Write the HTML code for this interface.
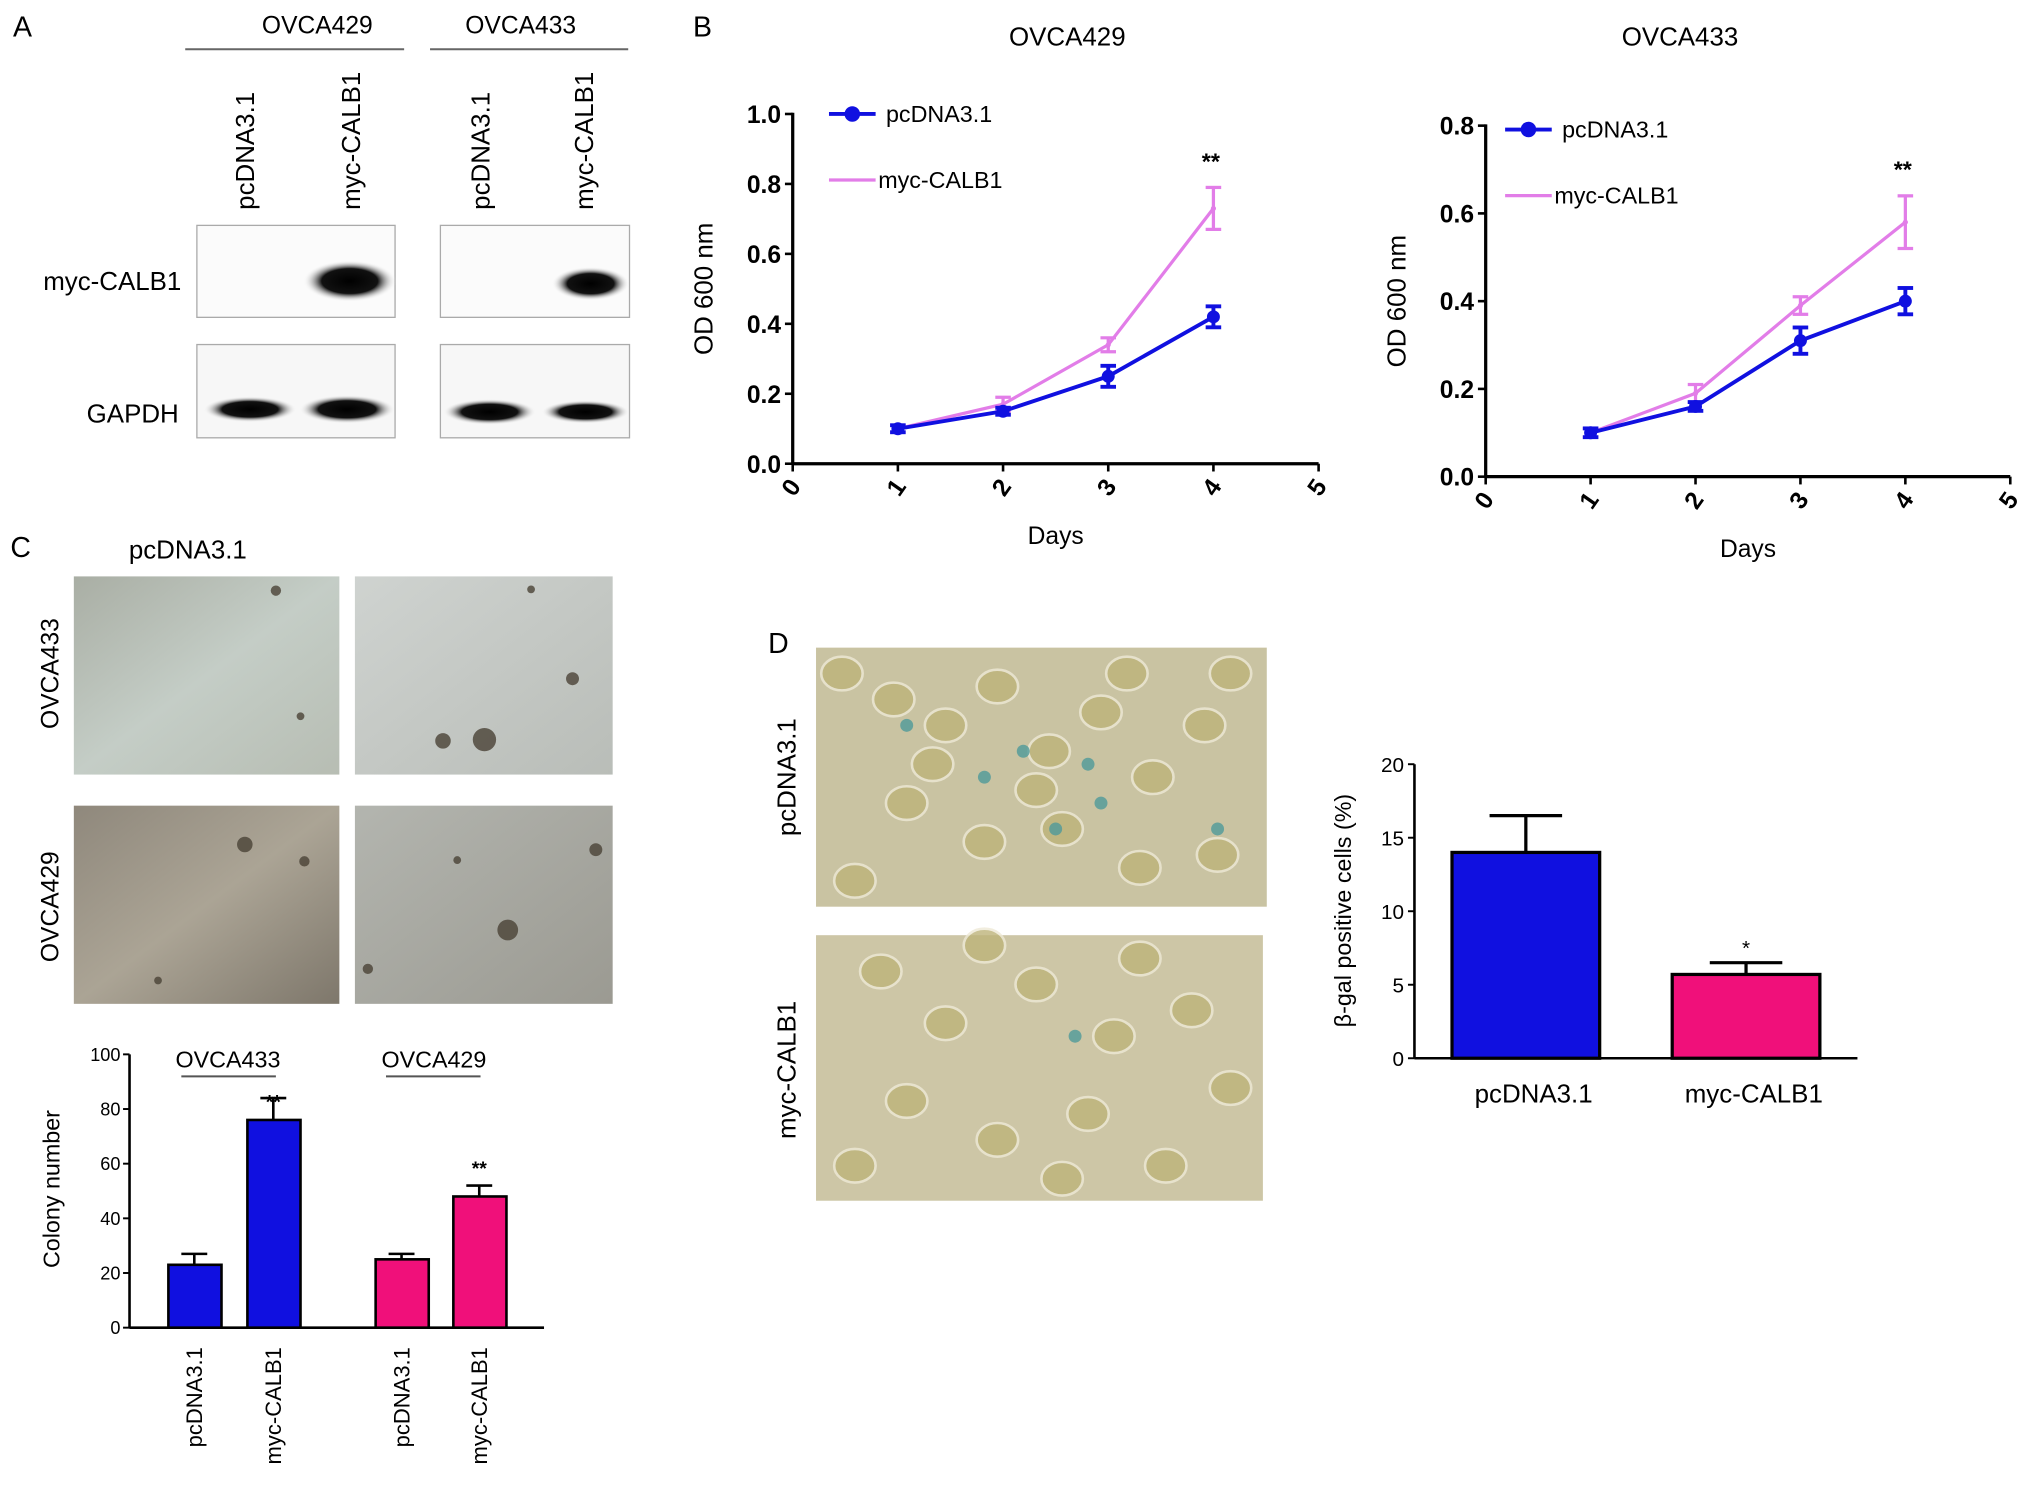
<!DOCTYPE html>
<html><head><meta charset="utf-8"><style>
html,body{margin:0;padding:0;background:#fff}
svg{display:block;font-family:"Liberation Sans",Arial,sans-serif}
</style></head><body>
<svg id="fig" width="2031" height="1509" viewBox="0 0 1568 1165" xmlns="http://www.w3.org/2000/svg">
<defs>
<radialGradient id="band" cx="50%" cy="50%" r="50%"><stop offset="0" stop-color="#000"/><stop offset="0.6" stop-color="#111"/><stop offset="1" stop-color="#fff" stop-opacity="0"/></radialGradient>
<linearGradient id="img1" x1="0" y1="0" x2="1" y2="1"><stop offset="0" stop-color="#a9aea4"/><stop offset="0.5" stop-color="#c4cdc6"/><stop offset="1" stop-color="#b7bdb3"/></linearGradient>
<linearGradient id="img2" x1="0" y1="0" x2="1" y2="1"><stop offset="0" stop-color="#cfd3d0"/><stop offset="1" stop-color="#b9bdb8"/></linearGradient>
<linearGradient id="img3" x1="0" y1="0" x2="1" y2="1"><stop offset="0" stop-color="#8f887c"/><stop offset="0.5" stop-color="#aba495"/><stop offset="1" stop-color="#7e776b"/></linearGradient>
<linearGradient id="img4" x1="0" y1="0" x2="1" y2="1"><stop offset="0" stop-color="#b3b5af"/><stop offset="1" stop-color="#9b9a92"/></linearGradient>
</defs>

<!-- Panel A -->
<g>
<text x="10" y="28" font-size="22">A</text>
<text x="245" y="26" font-size="19" text-anchor="middle">OVCA429</text>
<line x1="143" y1="38" x2="312" y2="38" stroke="#666" stroke-width="1.5"/>
<text x="402" y="26" font-size="19" text-anchor="middle">OVCA433</text>
<line x1="332" y1="38" x2="485" y2="38" stroke="#666" stroke-width="1.5"/>
<text transform="translate(196,162) rotate(-90)" font-size="20">pcDNA3.1</text>
<text transform="translate(278,162) rotate(-90)" font-size="20">myc-CALB1</text>
<text transform="translate(378,162) rotate(-90)" font-size="20">pcDNA3.1</text>
<text transform="translate(458,162) rotate(-90)" font-size="20">myc-CALB1</text>
<text x="140" y="224" font-size="20" text-anchor="end">myc-CALB1</text>
<text x="138" y="326" font-size="20" text-anchor="end">GAPDH</text>
<rect x="152" y="174" width="153" height="71" fill="#fbfbfb" stroke="#aaa"/>
<rect x="340" y="174" width="146" height="71" fill="#fbfbfb" stroke="#aaa"/>
<rect x="152" y="266" width="153" height="72" fill="#f7f7f7" stroke="#aaa"/>
<rect x="340" y="266" width="146" height="72" fill="#f7f7f7" stroke="#aaa"/>
<ellipse cx="270" cy="217" rx="36" ry="16" fill="url(#band)"/>
<ellipse cx="456" cy="219" rx="30" ry="13" fill="url(#band)"/>
<ellipse cx="193" cy="316" rx="36" ry="10" fill="url(#band)"/>
<ellipse cx="268" cy="316" rx="37" ry="11" fill="url(#band)"/>
<ellipse cx="378" cy="318" rx="36" ry="10" fill="url(#band)"/>
<ellipse cx="452" cy="318" rx="34" ry="9" fill="url(#band)"/>
</g>

<text x="535" y="28" font-size="22">B</text>
<g id="chartB1"></g>
<g id="chartB2"></g>

<!-- Panel C -->
<g>
<text x="8" y="430" font-size="22">C</text>
<text x="145" y="431" font-size="20" text-anchor="middle">pcDNA3.1</text>
<text transform="translate(45,520) rotate(-90)" font-size="19" text-anchor="middle">OVCA433</text>
<text transform="translate(45,700) rotate(-90)" font-size="19" text-anchor="middle">OVCA429</text>
<rect x="57" y="445" width="205" height="153" fill="url(#img1)"/>
<rect x="274" y="445" width="199" height="153" fill="url(#img2)"/>
<rect x="57" y="622" width="205" height="153" fill="url(#img3)"/>
<rect x="274" y="622" width="199" height="153" fill="url(#img4)"/>
<g fill="#4a4236" opacity="0.8">
<circle cx="213" cy="456" r="4"/><circle cx="232" cy="553" r="3"/><circle cx="374" cy="571" r="9"/><circle cx="342" cy="572" r="6"/><circle cx="442" cy="524" r="5"/><circle cx="410" cy="455" r="3"/><circle cx="189" cy="652" r="6"/><circle cx="235" cy="665" r="4"/><circle cx="392" cy="718" r="8"/><circle cx="460" cy="656" r="5"/><circle cx="284" cy="748" r="4"/><circle cx="122" cy="757" r="3"/><circle cx="353" cy="664" r="3"/>
</g>
</g>
<g id="chartC"></g>

<!-- Panel D -->
<g>
<text x="593" y="504" font-size="22">D</text>
<text transform="translate(614,600) rotate(-90)" font-size="20" text-anchor="middle">pcDNA3.1</text>
<text transform="translate(614,826) rotate(-90)" font-size="20" text-anchor="middle">myc-CALB1</text>
<rect x="630" y="500" width="348" height="200" fill="#c9c3a2"/>
<rect x="630" y="722" width="345" height="205" fill="#cdc6a6"/>
<g id="cells"></g>
</g>
<g id="chartD"></g>

<script>
const NS='http://www.w3.org/2000/svg';
function mk(parent,tag,attrs,txt){const e=document.createElementNS(NS,tag);for(const k in attrs)e.setAttribute(k,attrs[k]);if(txt!==undefined)e.textContent=txt;parent.appendChild(e);return e;}

// ----- Panel B data -----
const days=[1,2,3,4];
const b1Pc=[0.10,0.15,0.25,0.42];
const b1PcErr=[0.01,0.01,0.03,0.03];
const b1Myc=[0.10,0.17,0.34,0.73];
const b1MycErr=[0.01,0.02,0.02,0.06];
const b1YTicks=[0.0,0.2,0.4,0.6,0.8,1.0];
const b2Pc=[0.10,0.16,0.31,0.40];
const b2PcErr=[0.01,0.01,0.03,0.03];
const b2Myc=[0.10,0.19,0.39,0.58];
const b2MycErr=[0.01,0.02,0.02,0.06];
const b2YTicks=[0.0,0.2,0.4,0.6,0.8];
const xTicks=[0,1,2,3,4,5];

function lineChart(g,o){
  const X=v=>o.x0+(o.x1-o.x0)*v/5;
  const Y=v=>o.y0-(o.y0-o.y1)*v/o.ymax;
  mk(g,'text',{x:o.tx,y:35,'font-size':20,'text-anchor':'middle'},o.title);
  mk(g,'line',{x1:o.x0,y1:o.y0,x2:o.x0,y2:o.y1-1,stroke:'#000','stroke-width':2.5});
  mk(g,'line',{x1:o.x0,y1:o.y0,x2:o.x1,y2:o.y0,stroke:'#000','stroke-width':2.5});
  o.yt.forEach(t=>{mk(g,'line',{x1:o.x0-6,y1:Y(t),x2:o.x0,y2:Y(t),stroke:'#000','stroke-width':2});
    const tx=mk(g,'text',{x:o.x0-9,y:Y(t)+7,'font-size':19,'font-weight':'bold','text-anchor':'end'},t.toFixed(1));
    });
  xTicks.forEach(t=>{mk(g,'line',{x1:X(t),y1:o.y0,x2:X(t),y2:o.y0+6,stroke:'#000','stroke-width':2});
    const tx=mk(g,'text',{transform:`translate(${X(t)+4},${o.y0+22}) rotate(-55)`,'font-size':19,'font-weight':'bold','text-anchor':'middle'},t);
    });
  const xl=mk(g,'text',{x:(o.x0+o.x1)/2,y:o.y0+62,'font-size':19,'text-anchor':'middle'},'Days');
  
  const yl=mk(g,'text',{transform:`translate(${o.x0-62},${(o.y0+o.y1)/2}) rotate(-90)`,'font-size':20,'text-anchor':'middle'},'OD 600 nm');
  
  function series(vals,errs,col,w,dot,name){
    const sg=mk(g,'g',{});
    
    
    mk(sg,'polyline',{points:vals.map((v,i)=>X(days[i])+','+Y(v)).join(' '),fill:'none',stroke:col,'stroke-width':w});
    vals.forEach((v,i)=>{const x=X(days[i]);const e=errs[i];
      mk(sg,'line',{x1:x,y1:Y(v+e),x2:x,y2:Y(v-e),stroke:col,'stroke-width':w});
      mk(sg,'line',{x1:x-6,y1:Y(v+e),x2:x+6,y2:Y(v+e),stroke:col,'stroke-width':w});
      mk(sg,'line',{x1:x-6,y1:Y(v-e),x2:x+6,y2:Y(v-e),stroke:col,'stroke-width':w});
      if(dot)mk(sg,'circle',{cx:x,cy:Y(v),r:5,fill:col});
      else mk(sg,'circle',{cx:x,cy:Y(v),r:2,fill:col});});
  }
  series(o.myc,o.mycE,'#e27de8',2.5,false,'series-myc-calb1');
  series(o.pc,o.pcE,'#1010e0',3,true,'series-pcdna');
  const sx=X(4);mk(g,'text',{x:sx-2,y:Y(o.myc[3]+o.mycE[3])-14,'font-size':18,'font-weight':'bold','text-anchor':'middle'},'**');
  const lg=mk(g,'g',{});
  mk(lg,'line',{x1:o.lx,y1:o.ly,x2:o.lx+36,y2:o.ly,stroke:'#1010e0','stroke-width':3});
  mk(lg,'circle',{cx:o.lx+18,cy:o.ly,r:6,fill:'#1010e0'});
  mk(lg,'text',{x:o.lx+44,y:o.ly+6,'font-size':18},'pcDNA3.1');
  mk(lg,'line',{x1:o.lx,y1:o.ly+51,x2:o.lx+36,y2:o.ly+51,stroke:'#e27de8','stroke-width':2.5});
  mk(lg,'text',{x:o.lx+38,y:o.ly+57,'font-size':18},'myc-CALB1');
}
lineChart(document.getElementById('chartB1'),{x0:612,x1:1018,y0:358,y1:88,ymax:1.0,yt:b1YTicks,title:'OVCA429',tx:824,pc:b1Pc,pcE:b1PcErr,myc:b1Myc,mycE:b1MycErr,lx:640,ly:88});
lineChart(document.getElementById('chartB2'),{x0:1147,x1:1552,y0:368,y1:97,ymax:0.8,yt:b2YTicks,title:'OVCA433',tx:1297,pc:b2Pc,pcE:b2PcErr,myc:b2Myc,mycE:b2MycErr,lx:1162,ly:100});

// ----- Panel C bar chart -----
const cLabels=['pcDNA3.1','myc-CALB1','pcDNA3.1','myc-CALB1'];
const cVals=[23,76,25,48];
const cErrs=[4,8,2,4];
const cColors=['#1010e0','#1010e0','#f0107a','#f0107a'];
const cYTicks=[0,20,40,60,80,100];
(function(){
  const g=document.getElementById('chartC');
  const x0=100,x1=420,y0=1025,y1=814;const Y=v=>y0-(y0-y1)*v/100;
  const cx=[150,211,310,370];
  mk(g,'line',{x1:x0,y1:y0,x2:x0,y2:y1,stroke:'#000','stroke-width':2});
  mk(g,'line',{x1:x0,y1:y0,x2:x1,y2:y0,stroke:'#000','stroke-width':2});
  cYTicks.forEach(t=>{mk(g,'line',{x1:x0-5,y1:Y(t),x2:x0,y2:Y(t),stroke:'#000','stroke-width':1.5});
    mk(g,'text',{x:x0-7,y:Y(t)+5,'font-size':14,'text-anchor':'end'},t);});
  mk(g,'text',{transform:`translate(46,918) rotate(-90)`,'font-size':18,'text-anchor':'middle'},'Colony  number');
  cVals.forEach((v,i)=>{
    const b=mk(g,'rect',{x:cx[i]-20,y:Y(v),width:41,height:y0-Y(v),fill:cColors[i],stroke:'#000','stroke-width':2});
    
    
    mk(g,'line',{x1:cx[i],y1:Y(v),x2:cx[i],y2:Y(v+cErrs[i]),stroke:'#000','stroke-width':2});
    mk(g,'line',{x1:cx[i]-10,y1:Y(v+cErrs[i]),x2:cx[i]+10,y2:Y(v+cErrs[i]),stroke:'#000','stroke-width':2});
    const l=mk(g,'text',{transform:`translate(${cx[i]+6},1040) rotate(-90)`,'font-size':17,'text-anchor':'end'},cLabels[i]);
    
  });
  mk(g,'text',{x:cx[1],y:Y(cVals[1]+cErrs[1])+8,'font-size':15,'font-weight':'bold','text-anchor':'middle'},'**');
  mk(g,'text',{x:cx[3],y:Y(cVals[3]+cErrs[3])-8,'font-size':15,'font-weight':'bold','text-anchor':'middle'},'**');
  mk(g,'text',{x:176,y:824,'font-size':18,'text-anchor':'middle'},'OVCA433');
  mk(g,'line',{x1:140,y1:831,x2:213,y2:831,stroke:'#555','stroke-width':1.5});
  mk(g,'text',{x:335,y:824,'font-size':18,'text-anchor':'middle'},'OVCA429');
  mk(g,'line',{x1:298,y1:831,x2:371,y2:831,stroke:'#555','stroke-width':1.5});
})();

// ----- Panel D bar chart -----
const dLabels=['pcDNA3.1','myc-CALB1'];
const dVals=[14.0,5.7];
const dErrs=[2.5,0.8];
const dColors=['#1010e0','#f0107a'];
const dYTicks=[0,5,10,15,20];
(function(){
  const g=document.getElementById('chartD');
  const x0=1092,x1=1434,y0=817,y1=590;const Y=v=>y0-(y0-y1)*v/20;
  const cx=[1178,1348];
  mk(g,'line',{x1:x0,y1:y0,x2:x0,y2:y1,stroke:'#000','stroke-width':2});
  mk(g,'line',{x1:x0,y1:y0,x2:x1,y2:y0,stroke:'#000','stroke-width':2});
  dYTicks.forEach(t=>{mk(g,'line',{x1:x0-5,y1:Y(t),x2:x0,y2:Y(t),stroke:'#000','stroke-width':1.5});
    mk(g,'text',{x:x0-8,y:Y(t)+6,'font-size':16,'text-anchor':'end'},t);});
  mk(g,'text',{transform:`translate(1043,703) rotate(-90)`,'font-size':18,'text-anchor':'middle'},'β-gal positive cells (%)');
  dVals.forEach((v,i)=>{
    const b=mk(g,'rect',{x:cx[i]-57,y:Y(v),width:114,height:y0-Y(v),fill:dColors[i],stroke:'#000','stroke-width':2.5});
    
    
    mk(g,'line',{x1:cx[i],y1:Y(v),x2:cx[i],y2:Y(v+dErrs[i]),stroke:'#000','stroke-width':2.5});
    mk(g,'line',{x1:cx[i]-28,y1:Y(v+dErrs[i]),x2:cx[i]+28,y2:Y(v+dErrs[i]),stroke:'#000','stroke-width':2.5});
    mk(g,'text',{x:cx[i]+6,y:851,'font-size':20,'text-anchor':'middle'},dLabels[i]);
  });
  mk(g,'text',{x:cx[1],y:Y(dVals[1]+dErrs[1])-6,'font-size':16,'text-anchor':'middle'},'*');
})();

// micrograph cell texture (decorative)
(function(){
  const g=document.getElementById('cells');
  const pts=[[650,520],[690,540],[730,560],[770,530],[810,580],[850,550],[890,600],[930,560],[700,620],[760,650],[820,640],[880,670],[660,680],[940,660],[720,590],[800,610],[870,520],[950,520],[680,750],[730,790],[800,760],[860,800],[920,780],[700,850],[770,880],[840,860],[900,900],[950,840],[660,900],[820,910],[760,730],[880,740]];
  pts.forEach(p=>{mk(g,'ellipse',{cx:p[0],cy:p[1],rx:16,ry:13,fill:'#bdb47a',stroke:'#eee9d6','stroke-width':2,opacity:0.8});});
  [[790,580],[840,590],[850,620],[760,600],[815,640],[830,800],[700,560],[940,640]].forEach(p=>mk(g,'circle',{cx:p[0],cy:p[1],r:5,fill:'#4f9a9a',opacity:0.8}));
})();
</script>
</svg>
</body></html>
